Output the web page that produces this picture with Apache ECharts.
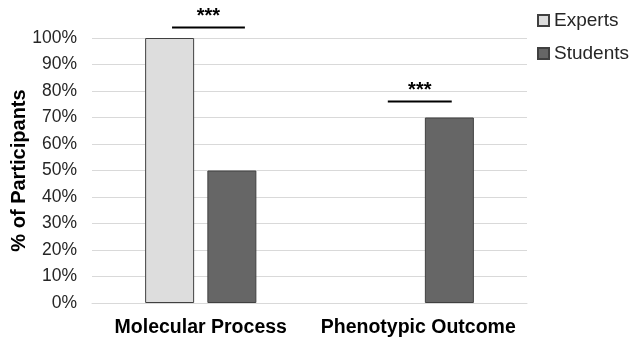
<!DOCTYPE html>
<html>
<head>
<meta charset="utf-8">
<script src="https://cdn.jsdelivr.net/npm/echarts@6/dist/echarts.min.js"></script>
<style>
  html, body { margin: 0; padding: 0; background: #fff; }
  #chart { width: 632px; height: 340px; }
</style>
</head>
<body>
<div id="chart"></div>
<script>
// data
var categories = ['Molecular Process', 'Phenotypic Outcome'];
var experts = [100, 0];
var students = [50, 70];
var yTicks = [0, 10, 20, 30, 40, 50, 60, 70, 80, 90, 100];
// significance brackets: category index, height (%), label
var sigCats = [0, 1];
var sigHeights = [104, 76];
var sigLabels = ['***', '***'];

var chart = echarts.init(document.getElementById('chart'));
var font = 'Liberation Sans, Arial, sans-serif';
// bracket ends, as a fraction of the category band around its centre
var sigSpan = [[-0.132, 0.203], [-0.14, 0.154]];

// zero-height bars get no outline (Excel draws nothing there)
function bars(values) {
  return values.map(function (v) {
    return v === 0 ? { value: v, itemStyle: { borderWidth: 0 } } : v;
  });
}

var option = {
  animation: false,
  textStyle: { fontFamily: font },
  grid: { left: 92, right: 105, top: 38, bottom: 37, outerBoundsMode: 'none', containLabel: false },
  legend: {
    data: ['Experts', 'Students'],
    orient: 'vertical',
    left: 532,
    top: 6,
    itemGap: 14,
    itemWidth: 11,
    itemHeight: 11,
    icon: 'rect',
    textStyle: { fontSize: 19, color: '#262626', fontFamily: font }
  },
  xAxis: {
    type: 'category',
    data: categories,
    axisLine: { show: true, lineStyle: { color: '#d9d9d9', width: 1 } },
    axisTick: { show: false },
    axisLabel: { interval: 0, fontSize: 19.5, fontWeight: 'bold', color: '#000', margin: 15, fontFamily: font }
  },
  yAxis: {
    type: 'value',
    min: 0,
    max: 100,
    interval: 10,
    name: '% of Participants',
    nameLocation: 'middle',
    nameGap: 63,
    nameRotate: 90,
    nameMoveOverlap: false,
    nameTextStyle: { fontSize: 20, fontWeight: 'bold', color: '#000', fontFamily: font },
    axisLine: { show: false },
    axisTick: { show: false },
    splitLine: { lineStyle: { color: '#d9d9d9', width: 1 } },
    axisLabel: {
      fontSize: 17.5, color: '#262626', margin: 15, fontFamily: font,
      customValues: yTicks,
      formatter: function (v) { return v + '%'; }
    }
  },
  series: [
    {
      name: 'Experts',
      type: 'bar',
      data: bars(experts),
      barWidth: 49,
      barGap: '27%',
      itemStyle: { color: '#dddddd', borderColor: '#404040', borderWidth: 1 }
    },
    {
      name: 'Students',
      type: 'bar',
      data: bars(students),
      barWidth: 49,
      itemStyle: { color: '#666666', borderColor: '#404040', borderWidth: 1 }
    },
    {
      type: 'custom',
      silent: true,
      clip: false,
      z: 10,
      data: sigCats.map(function (c, i) { return [c, sigHeights[i], sigLabels[i]]; }),
      renderItem: function (params, api) {
        var p = api.coord([api.value(0), api.value(1)]);
        var band = api.size([1, 0])[0];
        var span = sigSpan[params.dataIndex];
        var x1 = p[0] + band * span[0];
        var x2 = p[0] + band * span[1];
        return {
          type: 'group',
          children: [
            {
              type: 'line',
              shape: { x1: x1, y1: p[1], x2: x2, y2: p[1] },
              style: { stroke: '#000', lineWidth: 2 }
            },
            {
              type: 'text',
              style: {
                x: (x1 + x2) / 2, y: p[1] - 1,
                text: sigLabels[params.dataIndex],
                fontSize: 20, fontWeight: 'bold', fill: '#000',
                fontFamily: font,
                align: 'center', verticalAlign: 'bottom'
              }
            }
          ]
        };
      }
    }
  ]
};
chart.setOption(option);
</script>
</body>
</html>
